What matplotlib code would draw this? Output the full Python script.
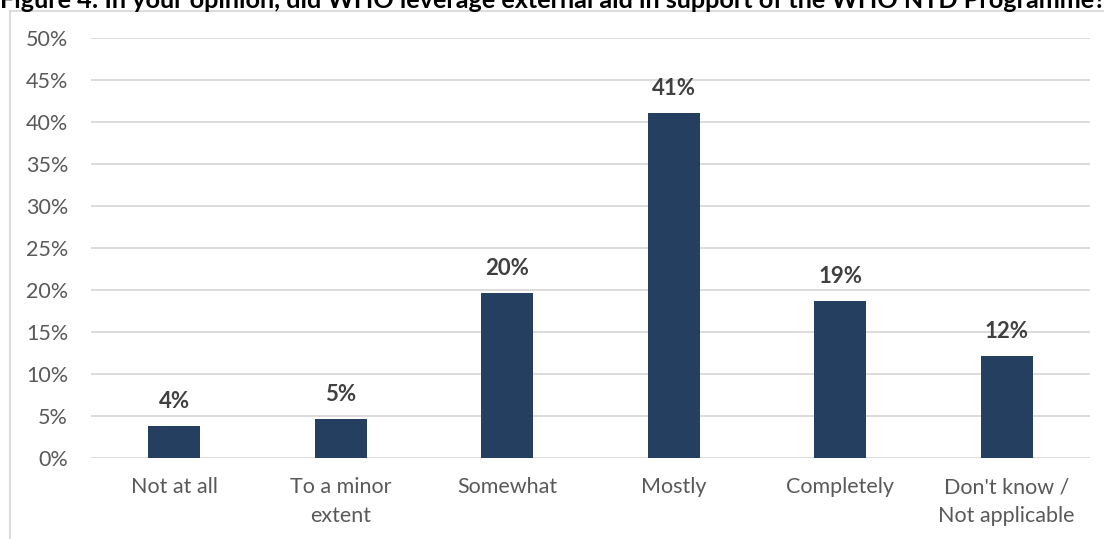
import matplotlib
matplotlib.use("Agg")
import matplotlib.pyplot as plt
from matplotlib.lines import Line2D
from matplotlib.ticker import PercentFormatter

categories = ["Not at all", "To a minor\nextent", "Somewhat", "Mostly",
              "Completely", "Don't know /\nNot applicable"]
shares = [0.038, 0.047, 0.196, 0.411, 0.187, 0.121]
yticks = [0.0, 0.05, 0.10, 0.15, 0.20, 0.25, 0.30, 0.35, 0.40, 0.45, 0.50]
title = "Figure 4: In your opinion, did WHO leverage external aid in support of the WHO NTD Programme?"

plt.rcParams["font.family"] = ["Lato", "DejaVu Sans"]

W, H = 1104, 539
fig = plt.figure(figsize=(W / 100, H / 100), dpi=100)
ax = fig.add_axes([91 / W, 1 - 458 / H, (1090 - 91) / W, (458 - 38) / H])

x = range(len(categories))
ax.bar(x, shares, width=0.31, color="#243F60", zorder=3)
for xi, v in zip(x, shares):
    ax.annotate(f"{v:.0%}", (xi, v), xytext=(0, 10), textcoords="offset points",
                ha="center", va="bottom", fontsize=16, fontweight="bold", color="#404040")

ax.set_xlim(-0.5, len(categories) - 0.5)
ax.set_ylim(0, 0.5)
ax.set_yticks(yticks)
ax.yaxis.set_major_formatter(PercentFormatter(1.0, decimals=0))
ax.set_xticks(list(x))
ax.set_xticklabels(categories, linespacing=1.55)
ax.grid(axis="y", color="#D9D9D9", linewidth=1.3, zorder=0)
ax.tick_params(axis="both", length=0, labelsize=15.5, colors="#595959")
ax.tick_params(axis="y", pad=16.5)
ax.tick_params(axis="x", pad=14)
for s in ax.spines.values():
    s.set_visible(False)

# chart-area frame (only left and top edges fall inside the canvas)
fig.add_artist(Line2D([10 / W, 10 / W], [0, 1 - 11 / H], color="#D9D9D9", lw=1.3,
                      transform=fig.transFigure))
fig.add_artist(Line2D([10 / W, 1], [1 - 11 / H, 1 - 11 / H], color="#D9D9D9", lw=1.3,
                      transform=fig.transFigure))

fig.text(0 / W, 1 - 8 / H, title, ha="left", va="baseline", fontsize=18.2,
         fontweight="bold", color="black")

fig.savefig("out.png", dpi=100, facecolor="white")
